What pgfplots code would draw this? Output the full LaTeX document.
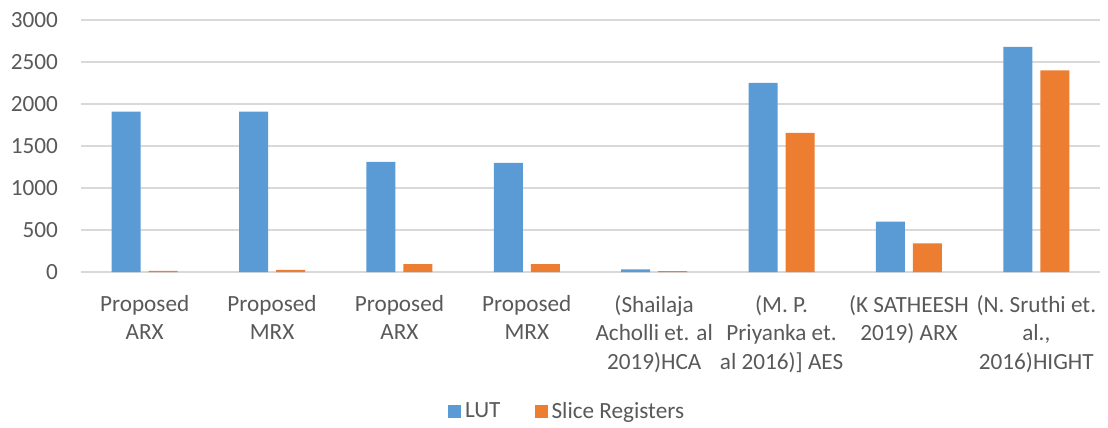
\documentclass[border=0pt]{standalone}
\usepackage{pgfplots}
\pgfplotsset{compat=1.18}
\usepackage{fontspec}
\setmainfont{Carlito}
\definecolor{lutblue}{HTML}{5B9BD5}
\definecolor{slorange}{HTML}{ED7D31}
\definecolor{gridgray}{HTML}{D9D9D9}
\definecolor{txtgray}{HTML}{595959}
\begin{document}
\begin{tikzpicture}
\path[use as bounding box] (0,0) rectangle (554pt,214pt);
\begin{axis}[
  at={(40.5pt,78pt)}, anchor=south west,
  scale only axis, width=509.5pt, height=126pt,
  ybar=4pt, bar width=14.5pt,
  xmin=-0.5, xmax=7.5, ymin=0, ymax=3000,
  ytick={0,500,...,3000},
  xtick={0,...,7},
  xticklabels={{Proposed\\ARX},{Proposed\\MRX},{Proposed\\ARX},{Proposed\\MRX},{(Shailaja\\Acholli et. al\\2019)HCA},{(M. P.\\Priyanka et.\\al 2016)] AES},{(K SATHEESH\\2019) ARX},{(N. Sruthi et.\\al.,\\2016)HIGHT}},
  axis line style={draw=none},
  major tick length=0pt,
  ymajorgrids, grid style={gridgray, line width=0.8pt},
  /pgf/number format/assume math mode=true,
  /pgf/number format/set thousands separator={},
  tick label style={font=\fontsize{11.6}{14.3}\selectfont, text=txtgray},
  xticklabel style={align=center, anchor=north, yshift=-8pt},
  yticklabel style={anchor=east, xshift=-8pt},
  legend style={at={(0.478,-0.555)}, anchor=center, draw=none, legend columns=2,
    font=\fontsize{11.6}{14}\selectfont, text=txtgray,
    /tikz/every even column/.append style={column sep=15pt}},
  legend image code/.code={\fill[#1] (0pt,-3.25pt) rectangle (6.5pt,3.25pt);},
]
\addplot[fill=lutblue, draw=none] coordinates {(0,1910) (1,1910) (2,1310) (3,1300) (4,30) (5,2250) (6,600) (7,2680)};
\addplot[fill=slorange, draw=none] coordinates {(0,12) (1,25) (2,95) (3,95) (4,10) (5,1655) (6,340) (7,2400)};
\legend{LUT, Slice Registers}
\end{axis}
\end{tikzpicture}
\end{document}
